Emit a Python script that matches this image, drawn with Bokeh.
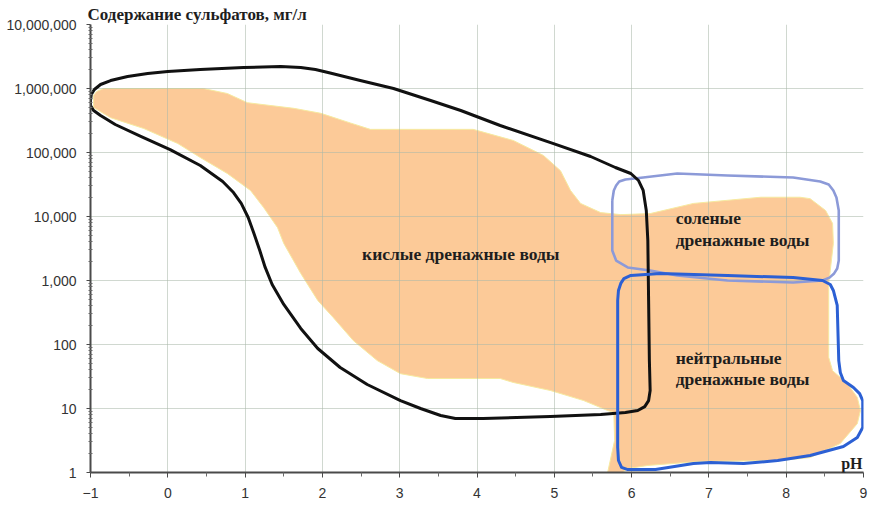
from bokeh.plotting import figure
from bokeh.models import Range1d, FixedTicker, NumeralTickFormatter, Label
from bokeh.embed import file_html
from bokeh.resources import INLINE

# pH / sulfate (mg/l) outlines of the drainage-water fields

# overall field of observed waters (filled)
field_ph = [-0.96, -0.92, -0.83, 0.46, 0.77, 1.03, 1.63, 1.98, 2.36, 2.62, 3.95,
            4.47, 4.86, 5.08, 5.21, 5.34, 5.60, 5.86, 6.24, 6.80, 7.67, 8.18,
            8.31, 8.51, 8.60, 8.61, 8.57, 8.55, 8.55, 8.60, 8.79, 8.92, 8.96,
            8.92, 8.70, 8.31, 7.93, 6.89, 6.21, 5.95, 5.88, 5.69, 5.78, 5.77,
            5.69, 5.38, 4.95, 4.47, 4.30, 3.36, 3.01, 2.71, 2.40, 2.14, 1.94,
            1.72, 1.50, 1.42, 1.24, 1.07, 0.77, 0.42, 0.13, -0.31, -0.74, -0.96]
field_so4 = [7.8e5, 8.98e5, 1.0e6, 1.0e6, 8.35e5, 6.0e5, 4.9e5, 4.1e5, 2.9e5,
             2.3e5, 2.3e5, 1.54e5, 9.0e4, 5.2e4, 2.55e4, 1.6e4, 1.15e4, 1.07e4,
             1.11e4, 1.6e4, 2.0e4, 2.0e4, 1.9e4, 1.24e4, 7.8e3, 3.8e3, 1.43e3,
             900, 63, 39, 24.6, 14.9, 9.3, 5.8, 2.84, 1.71, 1.54, 1.49, 1.29,
             1.15, 1.0, 1.0, 3.16, 8.66, 9.3, 13.3, 19.1, 25.5, 29.4, 29.4, 35,
             56, 115, 264, 487, 1290, 3800, 6700, 1.38e4, 2.55e4, 4.7e4, 8.35e4,
             1.38e5, 2.37e5, 3.5e5, 5.05e5]

# acid drainage outline
acid_ph = [-1.00, -0.99, -0.95, -0.87, -0.74, -0.52, -0.26, 0.00, 0.42, 0.98,
           1.46, 1.72, 1.91, 2.10, 2.49, 2.92, 3.40, 3.79, 4.30, 4.99, 5.47,
           5.79, 5.99, 6.09, 6.15, 6.19, 6.21, 6.22, 6.23, 6.24, 6.22, 6.17,
           6.08, 5.92, 5.60, 4.95, 4.08, 3.72, 3.53, 3.27, 3.01, 2.58, 2.23,
           1.94, 1.72, 1.50, 1.35, 1.26, 1.19, 1.11, 1.04, 0.95, 0.85, 0.71,
           0.42, 0.03, -0.35, -0.68, -0.87, -0.96, -1.00, -1.00]
acid_so4 = [6.5e5, 8.05e5, 9.65e5, 1.155e6, 1.33e6, 1.54e6, 1.72e6, 1.84e6,
            1.98e6, 2.13e6, 2.21e6, 2.13e6, 1.98e6, 1.75e6, 1.33e6, 1.0e6,
            6.5e5, 4.53e5, 2.64e5, 1.38e5, 8.66e4, 5.83e4, 4.7e4, 3.65e4,
            2.55e4, 1.24e4, 4.2e3, 487, 56, 19.1, 13.3, 10.7, 9.31, 8.66, 8.06,
            7.5, 6.98, 6.98, 7.77, 10.0, 13.3, 23.7, 43.7, 86.6, 178, 422, 866,
            1.6e3, 2.94e3, 5.62e3, 9.65e3, 1.6e4, 2.37e4, 3.52e4, 6.27e4,
            1.11e5, 1.78e5, 2.74e5, 3.79e5, 4.53e5, 5.42e5, 6.5e5]

# saline drainage outline
saline_ph = [5.75, 5.77, 5.80, 5.84, 5.92, 6.15, 6.59, 7.24, 8.09, 8.44, 8.55,
             8.61, 8.65, 8.68, 8.68, 8.66, 8.62, 8.56, 8.47, 8.09, 7.24, 6.59,
             6.24, 5.95, 5.80, 5.75, 5.75]
saline_so4 = [1.78e4, 2.55e4, 3.05e4, 3.52e4, 3.79e4, 4.07e4, 4.7e4, 4.37e4,
              4.07e4, 3.52e4, 3.16e4, 2.55e4, 1.98e4, 1.24e4, 2.05e3, 1.54e3,
              1.29e3, 1.11e3, 1.0e3, 930, 1.0e3, 1.2e3, 1.43e3, 1.6e3, 2.05e3,
              2.94e3, 1.78e4]

# neutral drainage outline
neutral_ph = [5.82, 5.83, 5.86, 5.90, 5.99, 6.37, 7.24, 8.09, 8.47, 8.57, 8.61,
              8.66, 8.68, 8.70, 8.74, 8.87, 8.95, 8.99, 8.99, 8.99, 8.92, 8.74,
              8.31, 7.89, 7.45, 7.02, 6.80, 6.31, 5.95, 5.87, 5.83, 5.82, 5.82,
              5.82, 5.82]
neutral_so4 = [487, 698, 900, 1.07e3, 1.2e3, 1.29e3, 1.2e3, 1.11e3, 1.0e3, 866,
               698, 407, 56, 36.5, 27.4, 21.3, 17.1, 13.3, 8.66, 5.05, 3.52,
               2.55, 1.84, 1.54, 1.38, 1.43, 1.38, 1.11, 1.11, 1.2, 1.54, 2.46,
               8.35, 80, 487]

x_ticks = list(range(-1, 10))
y_ticks = [1, 10, 100, 1000, 10000, 100000, 1000000, 10000000]

title_text = "Содержание сульфатов, мг/л"
x_axis_text = "pH"
zone_labels = ["кислые дренажные воды", "соленые", "дренажные воды",
               "нейтральные", "дренажные воды"]

p = figure(width=870, height=506, y_axis_type="log", title=title_text,
           x_range=Range1d(-1, 9), y_range=Range1d(1, 1e7),
           output_backend="svg", toolbar_location=None,
           min_border_left=90, min_border_right=7,
           min_border_top=24, min_border_bottom=34)
p.outline_line_color = None
p.background_fill_color = "white"
p.border_fill_color = "white"

p.title.align = "left"
p.title.offset = -3
p.title.standoff = 2
p.title.text_font = "Liberation Serif"
p.title.text_font_style = "bold"
p.title.text_font_size = "17px"
p.title.text_color = "#1e1e1e"

# filled field sits beneath the grid
p.patch(field_ph, field_so4, fill_color="#fcca98", line_color="#f6eaa0",
        line_width=1.0, level="image")

for grid in (p.xgrid, p.ygrid):
    grid.grid_line_color = "#a9b8a9"
    grid.grid_line_alpha = 0.55
    grid.grid_line_width = 1
p.xgrid.ticker = FixedTicker(ticks=x_ticks)
p.ygrid.ticker = FixedTicker(ticks=y_ticks)

p.line(saline_ph, saline_so4, line_color="#8c9ad8", line_width=2.6,
       line_join="round")
p.line(acid_ph, acid_so4, line_color="#111111", line_width=3.0,
       line_join="round")
p.line(neutral_ph, neutral_so4, line_color="#2c60d4", line_width=3.0,
       line_join="round")

minor_x = [t + 0.5 for t in x_ticks[:-1]]
minor_y = [m * d for d in y_ticks[:-1] for m in range(2, 10)]

xa = p.xaxis[0]
xa.ticker = FixedTicker(ticks=x_ticks, minor_ticks=minor_x)
ya = p.yaxis[0]
ya.ticker = FixedTicker(ticks=y_ticks, minor_ticks=minor_y)
ya.formatter = NumeralTickFormatter(format="0,0")

for ax in (xa, ya):
    ax.axis_line_color = "#4a4a4a"
    ax.axis_line_width = 2
    ax.major_tick_line_color = "#4a4a4a"
    ax.minor_tick_line_color = "#6a6a6a"
    ax.major_tick_in = 0
    ax.major_label_text_font = "Liberation Sans"
    ax.major_label_text_font_size = "14px"
    ax.major_label_text_color = "#333333"
xa.major_tick_out = 5
xa.minor_tick_in = 0
xa.minor_tick_out = 4
xa.major_label_standoff = 10
ya.major_tick_out = 4
ya.minor_tick_in = 2
ya.minor_tick_out = 2
ya.major_label_standoff = 10

serif = dict(text_font="Liberation Serif", text_font_style="bold",
             text_color="#1e1e1e")

p.add_layout(Label(x=9, y=1, x_offset=-1, y_offset=9, text=x_axis_text,
                   text_font_size="16px", text_align="right",
                   text_baseline="alphabetic", **serif))

p.add_layout(Label(x=3.79, y=2640, text=zone_labels[0], text_font_size="17.5px",
                   text_align="center", text_baseline="middle", **serif))
p.add_layout(Label(x=6.57, y=9640, text=zone_labels[1], text_font_size="17.5px",
                   text_align="left", text_baseline="middle", **serif))
p.add_layout(Label(x=6.57, y=4220, text=zone_labels[2], text_font_size="17.5px",
                   text_align="left", text_baseline="middle", **serif))
p.add_layout(Label(x=6.57, y=62.6, text=zone_labels[3], text_font_size="17.5px",
                   text_align="left", text_baseline="middle", **serif))
p.add_layout(Label(x=6.57, y=29.4, text=zone_labels[4], text_font_size="17.5px",
                   text_align="left", text_baseline="middle", **serif))

open("out.html", "w").write(file_html(p, INLINE))
